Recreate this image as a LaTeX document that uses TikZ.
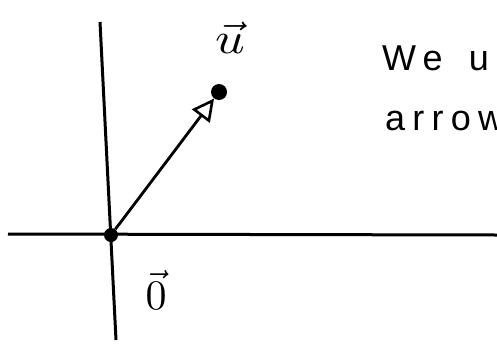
\documentclass[tikz,border=0pt]{standalone}
\usepackage{fontspec}
\setsansfont{Liberation Sans}
\usetikzlibrary{arrows.meta,positioning}

\begin{document}
\begin{tikzpicture}[
  x=1pt,y=-1pt,
  axis/.style={line width=3pt},
  dot/.style={circle,fill,inner sep=0pt,minimum size=14pt},
  vec/.style={-{Triangle[open,length=22pt,width=22pt,line width=2.6pt]},line width=2.8pt},
  lbl/.style={inner sep=0pt},
  note/.style={font=\sffamily\fontsize{36}{40}\selectfont\addfontfeatures{LetterSpace=20},
    anchor=base west,inner sep=0pt}
]
\useasboundingbox (0,0) rectangle (497,343);
% axes
\coordinate (ytop) at (100,22);
\coordinate (ybot) at (116,340);
\coordinate (xl) at (8,234);
\coordinate (xr) at (497,235);
\draw[axis] (ytop) -- (ybot);
\draw[axis] (xl) -- (xr);
% vector u
\node[dot] (O) at (111,235) {};
\node[dot,minimum size=16pt] (U) at (219,92) {};
\draw[vec] (O) -- (U);
\node[lbl] (ulbl) at (230,38) {\scalebox{5.2}[4.4]{$\vec{u}$}};
\node[lbl] (olbl) at (156,290) {\scalebox{4.2}{$\vec{0}$}};
% note, cut off at the edge
\node[note] (n1) at (382,70) {We\hspace{26pt}u};
\node[note] (n2) at (385,130) {arrow};
\end{tikzpicture}
\end{document}
